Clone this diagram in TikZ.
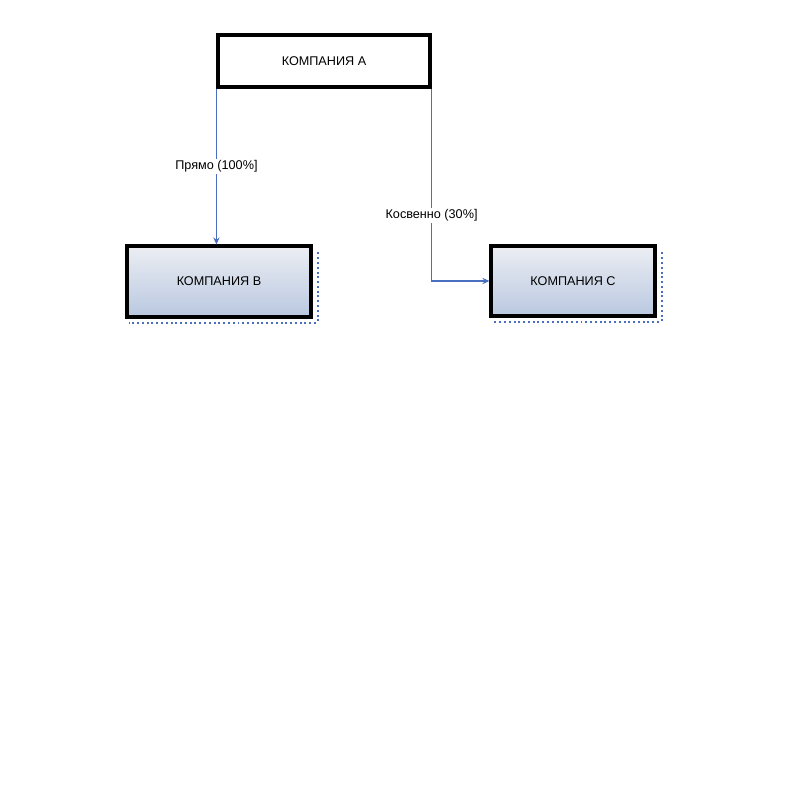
\documentclass[tikz,border=0pt]{standalone}
\usepackage{xcolor}
\usepackage{fontspec}
\setmainfont{Liberation Sans}
\usepackage{tikz}
\usetikzlibrary{shapes,arrows,positioning,calc,arrows.meta}

\definecolor{linkblue}{HTML}{4A6FC0}
\definecolor{boxtop}{HTML}{ECEEF3}
\definecolor{boxbottom}{HTML}{B9C8E0}

\begin{document}
\begin{tikzpicture}[x=0.025cm,y=-0.025cm,
    company/.style={draw, line width=2.2pt, inner sep=0pt, font=\fontsize{9}{11}\selectfont},
    shaded/.style={company, top color=boxtop, bottom color=boxbottom},
    link/.style={linkblue, line width=0.9pt, -{Stealth[length=5pt,width=4.5pt]}},
    share/.style={fill=white, text=black, inner sep=1pt, font=\fontsize{9}{11}\selectfont},
    shade line/.style={linkblue, dotted, line width=1.4pt}]
    \useasboundingbox (0,0) rectangle (800,791);
    % Companies
    \node[company, minimum width=5.3cm, minimum height=1.3cm] (A) at (324,61) {КОМПАНИЯ A};
    \node[shaded, minimum width=4.6cm, minimum height=1.775cm] (B) at (219,281.5) {КОМПАНИЯ B};
    \node[shaded, minimum width=4.1cm, minimum height=1.75cm] (C) at (573,281) {КОМПАНИЯ C};
    % Dotted shadows
    \draw[shade line] ($(B.north east)+(5,8)$) -- ($(B.south east)+(5,4)$) -- ($(B.south west)+(4,4)$);
    \draw[shade line] ($(C.north east)+(5,8)$) -- ($(C.south east)+(5,4)$) -- ($(C.south west)+(4,4)$);
    % Ownership
    \draw[link] (A.south west) -- (A.south west |- B.north) node[share, midway]{Прямо (100\%]};
    \draw[link] (A.south east) |- (C.west) node[share, pos=0.33]{Косвенно (30\%]};
\end{tikzpicture}
\end{document}
